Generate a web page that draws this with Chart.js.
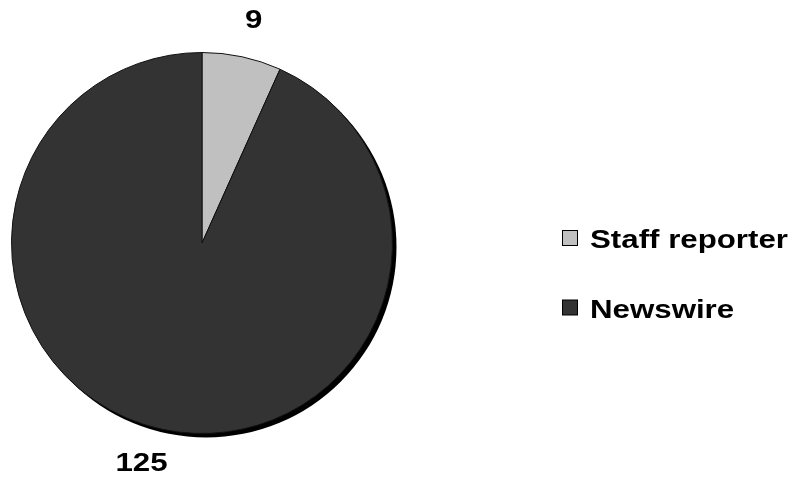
<!DOCTYPE html>
<html>
<head>
<meta charset="utf-8">
<script src="https://cdn.jsdelivr.net/npm/chart.js@4/dist/chart.umd.min.js"></script>
<style>
  html, body { margin: 0; padding: 0; background: #fff; }
  #wrap { width: 792px; height: 479px; }
</style>
</head>
<body>
<div id="wrap"><canvas id="pieChart" width="792" height="479"></canvas></div>
<script>
const categories = ['Staff reporter', 'Newswire'];
const counts = [9, 125];

const sliceColors = ['#c0c0c0', '#333333'];
const labelFont = 'bold 25px "Liberation Sans", Arial, sans-serif';
const stretchX = 1.25; // text in the original is widened

// black drop shadow behind the pie
const pieShadow = {
  id: 'pieShadow',
  beforeDatasetsDraw(chart) {
    const arc = chart.getDatasetMeta(0).data[0];
    if (!arc) return;
    const { x, y, outerRadius } = arc.getProps(['x', 'y', 'outerRadius'], true);
    const c = chart.ctx;
    c.save();
    c.fillStyle = '#000';
    c.beginPath();
    c.arc(x + 4, y + 4, outerRadius, 0, Math.PI * 2);
    c.fill();
    c.restore();
  }
};

// value labels outside the slices
const valueLabels = {
  id: 'valueLabels',
  afterDatasetsDraw(chart) {
    const c = chart.ctx;
    const meta = chart.getDatasetMeta(0);
    c.save();
    c.font = labelFont;
    c.fillStyle = '#000';
    c.textAlign = 'center';
    c.textBaseline = 'middle';
    meta.data.forEach((arc, i) => {
      const p = arc.getProps(['x', 'y', 'startAngle', 'endAngle', 'outerRadius'], true);
      const mid = (p.startAngle + p.endAngle) / 2;
      const d = p.outerRadius + 36;
      const txt = String(counts[i]);
      const w = c.measureText(txt).width * stretchX;
      const px = p.x + Math.cos(mid) * d + Math.sign(Math.cos(mid)) * w / 4;
      const py = p.y + Math.sin(mid) * d;
      c.save();
      c.translate(px, py);
      c.scale(stretchX, 1);
      c.fillText(txt, 0, 0);
      c.restore();
    });
    c.restore();
  }
};

// legend on the right
const sideLegend = {
  id: 'sideLegend',
  afterDraw(chart) {
    const c = chart.ctx;
    c.save();
    c.font = labelFont;
    c.textBaseline = 'alphabetic';
    c.textAlign = 'left';
    categories.forEach((name, i) => {
      const top = 230 + i * 69.5;
      c.fillStyle = sliceColors[i];
      c.fillRect(562.5, top + 0.5, 15, 15);
      c.strokeStyle = '#000';
      c.lineWidth = 1;
      c.strokeRect(562.5, top + 0.5, 15, 15);
      c.fillStyle = '#000';
      c.save();
      c.translate(590, top + 18);
      c.scale(stretchX, 1);
      c.fillText(name, 0, 0);
      c.restore();
    });
    c.restore();
  }
};

const ctx = document.getElementById('pieChart').getContext('2d');

const pieChart = new Chart(ctx, {
  type: 'pie',
  data: {
    labels: categories,
    datasets: [{
      data: counts,
      backgroundColor: sliceColors,
      borderColor: '#111',
      borderWidth: 1
    }]
  },
  options: {
    responsive: false,
    animation: false,
    layout: {
      padding: { left: 11, top: 52, right: 399, bottom: 45 }
    },
    plugins: {
      legend: { display: false },
      tooltip: { enabled: false }
    }
  },
  plugins: [pieShadow, valueLabels, sideLegend]
});
</script>
</body>
</html>
